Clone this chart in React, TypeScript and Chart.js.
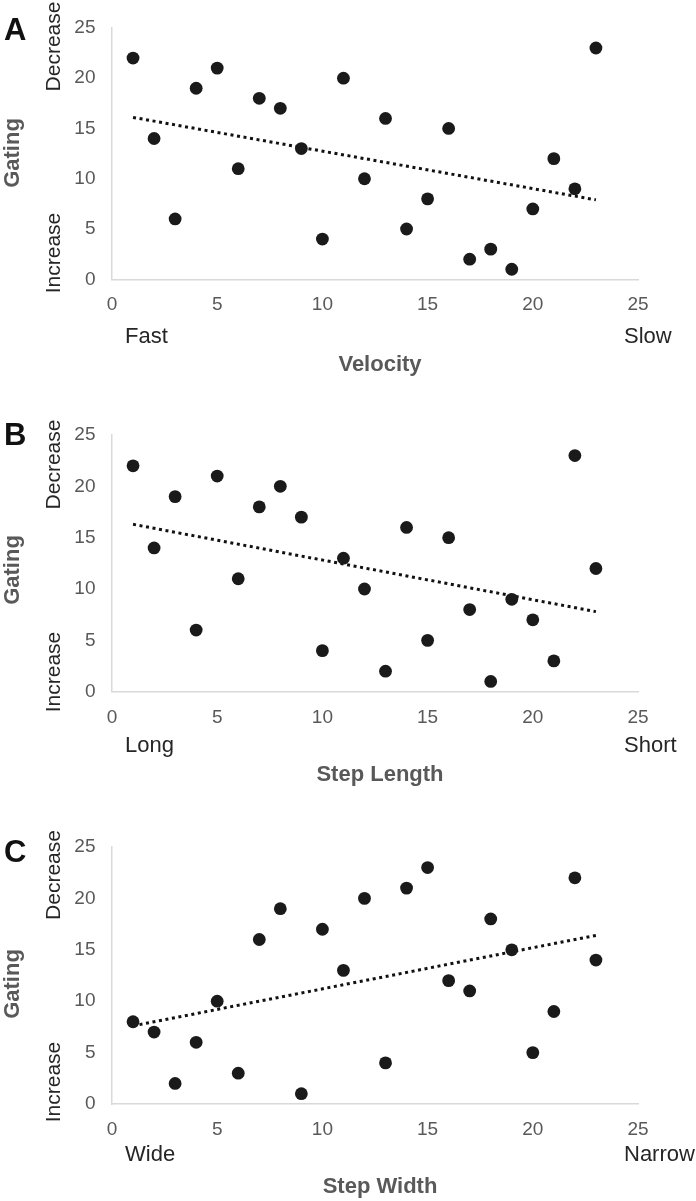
import React, { useEffect, useRef } from "react";
import { Chart, registerables } from "chart.js";

Chart.register(...registerables);

// ---- data ----
const subjectRank = [1, 2, 3, 4, 5, 6, 7, 8, 9, 10, 11, 12, 13, 14, 15, 16, 17, 18, 19, 20, 21, 22, 23];
const gatingVelocity = [22, 14, 6, 19, 21, 11, 18, 17, 13, 4, 20, 10, 16, 5, 8, 15, 2, 3, 1, 7, 12, 9, 23];
const gatingStepLength = [22, 14, 19, 6, 21, 11, 18, 20, 17, 4, 13, 10, 2, 16, 5, 15, 8, 1, 9, 7, 3, 23, 12];
const gatingStepWidth = [8, 7, 2, 6, 10, 3, 16, 19, 1, 17, 13, 20, 4, 21, 23, 12, 11, 18, 15, 5, 9, 22, 14];

const trendX = [1, 23];
const trendVelocity = [16.1, 7.9];
const trendStepLength = [16.3, 7.8];
const trendStepWidth = [7.6, 16.4];

const axisTicks = [0, 5, 10, 15, 20, 25];
const panelLetters = ["A", "B", "C"];
const xTitles = ["Velocity", "Step Length", "Step Width"];
const lowEndLabels = ["Fast", "Long", "Wide"];
const highEndLabels = ["Slow", "Short", "Narrow"];
const yTitle = "Gating";
const yHighLabel = "Decrease";
const yLowLabel = "Increase";

const FONT = "'Liberation Sans', Arial, Helvetica, sans-serif";

type Layout = {
  top: number;
  height: number;
  plotTop: number;
  plotBottom: number;
  letterBase: number;
  decCenter: number;
  incCenter: number;
  gatingCenter: number;
  endBase: number;
  titleBase: number;
};

const layouts: Layout[] = [
  { top: 0, height: 390, plotTop: 25, plotBottom: 279.3, letterBase: 40, decCenter: 46.5, incCenter: 253, gatingCenter: 153, endBase: 342.7, titleBase: 370.5 },
  { top: 390, height: 400, plotTop: 435, plotBottom: 691.7, letterBase: 445, decCenter: 464.5, incCenter: 672, gatingCenter: 570, endBase: 752, titleBase: 780.5 },
  { top: 790, height: 411, plotTop: 847, plotBottom: 1104, letterBase: 862, decCenter: 875, incCenter: 1082, gatingCenter: 984, endBase: 1160.5, titleBase: 1193 },
];

const seriesList = [gatingVelocity, gatingStepLength, gatingStepWidth];
const trendList = [trendVelocity, trendStepLength, trendStepWidth];

function Panel({ idx }: { idx: number }) {
  const ref = useRef<HTMLCanvasElement | null>(null);
  const L = layouts[idx];
  useEffect(() => {
    if (!ref.current) return;
    const ys = seriesList[idx];
    const tr = trendList[idx];
    const off = L.top;
    const labelPlugin = {
      id: "extraLabels" + idx,
      afterDraw(chart: any) {
        const ctx = chart.ctx;
        ctx.save();
        ctx.fillStyle = "#111111";
        ctx.font = `bold 31px ${FONT}`;
        ctx.textAlign = "left";
        ctx.textBaseline = "alphabetic";
        ctx.fillText(panelLetters[idx], 4, L.letterBase - off);
        ctx.fillStyle = "#262626";
        ctx.font = `22px ${FONT}`;
        ctx.fillText(lowEndLabels[idx], 125, L.endBase - off);
        ctx.fillText(highEndLabels[idx], 624, L.endBase - off);
        ctx.fillStyle = "#595959";
        ctx.font = `bold 22px ${FONT}`;
        ctx.textAlign = "center";
        ctx.fillText(xTitles[idx], 380, L.titleBase - off);
        const rot = (text: string, x: number, yc: number, font: string, color: string) => {
          ctx.save();
          ctx.translate(x, yc - off);
          ctx.rotate(-Math.PI / 2);
          ctx.font = font;
          ctx.fillStyle = color;
          ctx.textAlign = "center";
          ctx.textBaseline = "alphabetic";
          ctx.fillText(text, 0, 0);
          ctx.restore();
        };
        rot(yHighLabel, 59.5, L.decCenter, `21px ${FONT}`, "#262626");
        rot(yLowLabel, 59.5, L.incCenter, `21px ${FONT}`, "#262626");
        rot(yTitle, 18.5, L.gatingCenter, `bold 22px ${FONT}`, "#595959");
        ctx.restore();
      },
    };

    const chart = new Chart(ref.current, {
      type: "scatter",
      data: {
        datasets: [
          {
            label: "Gating",
            data: subjectRank.map((x, i) => ({ x, y: ys[i] })),
            backgroundColor: "#1a1a1a",
            borderColor: "#1a1a1a",
            pointRadius: 6.4,
            pointHoverRadius: 6.4,
            borderWidth: 0,
            order: 0,
          },
          {
            label: "Trend",
            data: trendX.map((x, i) => ({ x, y: tr[i] })),
            showLine: true,
            borderColor: "#111111",
            borderWidth: 3,
            borderDash: [3, 3.6],
            borderCapStyle: "butt",
            pointRadius: 0,
            pointHoverRadius: 0,
            fill: false,
            order: 1,
          } as any,
        ],
      },
      options: {
        responsive: false,
        animation: false,
        events: [],
        layout: { padding: { top: L.plotTop - off, right: 696 - 638, left: 0, bottom: 0 } },
        plugins: { legend: { display: false }, tooltip: { enabled: false }, title: { display: false } },
        scales: {
          x: {
            type: "linear",
            min: 0,
            max: 25,
            afterFit: (s: any) => {
              s.height = L.height - (L.plotBottom - off);
            },
            afterBuildTicks: (s: any) => {
              s.ticks = axisTicks.map((v) => ({ value: v }));
            },
            grid: { display: false, drawTicks: false, tickLength: 0 },
            border: { display: true, color: "#d9d9d9", width: 1.5 },
            ticks: { padding: 14.5, color: "#595959", font: { family: FONT, size: 19 }, maxRotation: 0 },
          },
          y: {
            type: "linear",
            min: 0,
            max: 25,
            afterFit: (s: any) => {
              s.width = 112;
            },
            afterBuildTicks: (s: any) => {
              s.ticks = axisTicks.map((v) => ({ value: v }));
            },
            grid: { display: false, drawTicks: false, tickLength: 0 },
            border: { display: true, color: "#d9d9d9", width: 1.5 },
            ticks: { padding: 16.5, color: "#595959", font: { family: FONT, size: 19 } },
          },
        },
      },
      plugins: [labelPlugin],
    } as any);
    return () => chart.destroy();
  }, [idx]);
  return (
    <canvas
      ref={ref}
      width={696}
      height={L.height}
      style={{ position: "absolute", left: 0, top: L.top, width: 696, height: L.height, display: "block" }}
    />
  );
}

export default function App() {
  return (
    <div style={{ position: "absolute", left: 0, top: 0, width: 696, height: 1201, background: "#ffffff", overflow: "hidden" }}>
      <Panel idx={0} />
      <Panel idx={1} />
      <Panel idx={2} />
    </div>
  );
}
